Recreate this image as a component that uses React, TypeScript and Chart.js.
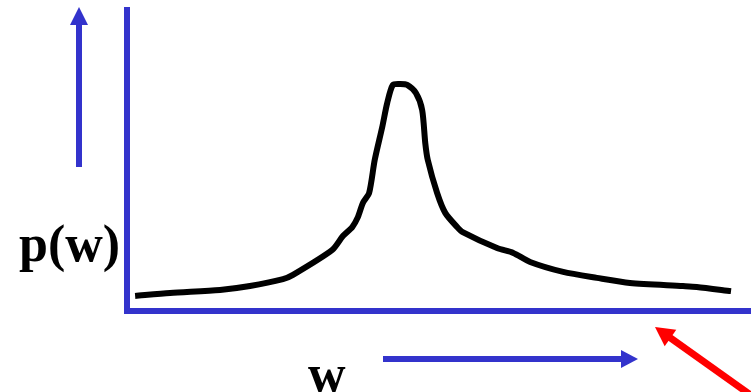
import { useEffect, useRef } from "react";
import { Chart, registerables } from "chart.js";

Chart.register(...registerables);

// Sampled curve: position along w and the density p(w) at that position
const W_VALUES = [
  1.3, 6.9, 14.9, 19.7, 25.0, 26.6, 32.9, 34.6, 36.1, 37.0, 37.8, 38.8, 39.7, 40.9,
  41.7, 42.6, 43.8, 44.9, 46.3, 47.3, 47.8, 48.2, 49.7, 51.0, 52.9, 53.8, 59.3, 61.9,
  64.6, 69.9, 75.3, 80.6, 89.1, 91.3, 96.8,
];
const P_VALUES = [
  5.0, 6.0, 7.0, 8.3, 10.6, 12.0, 20.3, 24.9, 27.9, 31.2, 35.9, 39.2, 50.2, 61.1,
  69.1, 75.1, 75.4, 75.1, 72.4, 66.8, 55.8, 50.2, 39.2, 32.6, 27.9, 26.2, 20.9, 19.3,
  16.3, 13.0, 11.0, 9.3, 8.3, 8.0, 6.6,
];

const Y_LABEL = "p(w)";
const X_LABEL = "w";

const AXIS_BLUE = "#3333CC";
const POINTER_RED = "#FF0000";
const LABEL_FONT = 'bold 52px "Liberation Serif", "Times New Roman", serif';

const WIDTH = 751;
const HEIGHT = 392;

function drawArrow(
  ctx: CanvasRenderingContext2D,
  x1: number,
  y1: number,
  x2: number,
  y2: number,
  lineWidth: number,
  headLen: number,
  headHalf: number,
  color: string
) {
  const dx = x2 - x1;
  const dy = y2 - y1;
  const len = Math.hypot(dx, dy);
  const ux = dx / len;
  const uy = dy / len;
  const bx = x2 - ux * headLen;
  const by = y2 - uy * headLen;
  ctx.save();
  ctx.strokeStyle = color;
  ctx.fillStyle = color;
  ctx.lineWidth = lineWidth;
  ctx.lineCap = "butt";
  ctx.beginPath();
  ctx.moveTo(x1, y1);
  ctx.lineTo(bx + ux * 1, by + uy * 1);
  ctx.stroke();
  ctx.beginPath();
  ctx.moveTo(x2, y2);
  ctx.lineTo(bx - uy * headHalf, by + ux * headHalf);
  ctx.lineTo(bx + uy * headHalf, by - ux * headHalf);
  ctx.closePath();
  ctx.fill();
  ctx.restore();
}

// Labels and direction arrows drawn around the plot area
const annotationsPlugin = {
  id: "axisAnnotations",
  afterDraw(chart: Chart) {
    const ctx = chart.ctx;
    const area = chart.chartArea;
    ctx.save();
    ctx.fillStyle = "#000000";
    ctx.font = LABEL_FONT;
    ctx.textBaseline = "alphabetic";
    ctx.textAlign = "left";
    ctx.fillText(Y_LABEL, 19, 261);
    ctx.fillText(X_LABEL, 308, 391);
    ctx.restore();

    // upward arrow beside the p(w) axis
    drawArrow(ctx, 79, 167, 79, 7, 6, 18, 9, AXIS_BLUE);
    // rightward arrow under the w axis
    drawArrow(ctx, 383, 359, 638, 359, 6, 17, 9, AXIS_BLUE);
    // red pointer towards the tail of the curve
    drawArrow(ctx, 769, 408, area.right - 96, area.bottom + 16, 7, 19, 10, POINTER_RED);
  },
};

export default function App() {
  const canvasRef = useRef<HTMLCanvasElement | null>(null);

  useEffect(() => {
    const canvas = canvasRef.current;
    if (!canvas) return;
    const points = W_VALUES.map((w, i) => ({ x: w, y: P_VALUES[i] }));
    const chart = new Chart(canvas, {
      type: "line",
      data: {
        datasets: [
          {
            data: points,
            borderColor: "#000000",
            borderWidth: 6,
            borderCapStyle: "butt",
            borderJoinStyle: "round",
            pointRadius: 0,
            tension: 0.25,
            fill: false,
          },
        ],
      },
      options: {
        responsive: false,
        animation: false,
        devicePixelRatio: 1,
        layout: { padding: { left: 127, top: 10, right: 0, bottom: 81 } },
        plugins: {
          legend: { display: false },
          tooltip: { enabled: false },
        },
        scales: {
          x: {
            type: "linear",
            min: 0,
            max: 100,
            ticks: { display: false },
            grid: { display: false, drawTicks: false },
            border: { display: true, color: AXIS_BLUE, width: 6 },
          },
          y: {
            type: "linear",
            min: 0,
            max: 100,
            ticks: { display: false },
            grid: { display: false, drawTicks: false },
            border: { display: true, color: AXIS_BLUE, width: 6 },
          },
        },
      },
      plugins: [annotationsPlugin],
    });
    return () => chart.destroy();
  }, []);

  return (
    <div
      style={{
        position: "fixed",
        left: 0,
        top: 0,
        width: WIDTH,
        height: HEIGHT,
        background: "#ffffff",
      }}
    >
      <canvas ref={canvasRef} width={WIDTH} height={HEIGHT} />
    </div>
  );
}
